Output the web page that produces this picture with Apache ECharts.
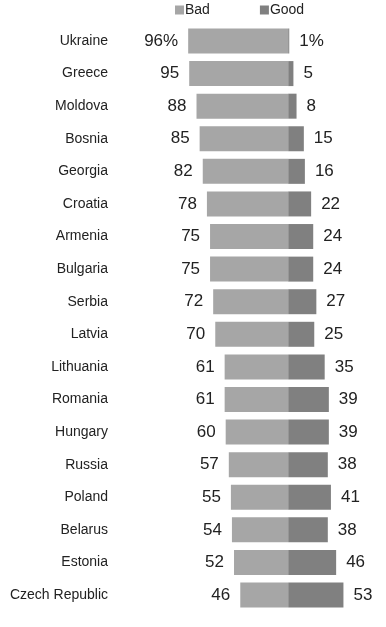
<!DOCTYPE html>
<html><head><meta charset="utf-8">
<script src="https://cdn.jsdelivr.net/npm/echarts@6/dist/echarts.min.js"></script>
<style>html,body{margin:0;padding:0;background:#fff}#c{width:386px;height:627px}</style>
</head><body><div id="c"></div>
<script>
const countries = ["Ukraine","Greece","Moldova","Bosnia","Georgia","Croatia","Armenia","Bulgaria","Serbia","Latvia","Lithuania","Romania","Hungary","Russia","Poland","Belarus","Estonia","Czech Republic"];
const bad = [96,95,88,85,82,78,75,75,72,70,61,61,60,57,55,54,52,46];
const good = [1,5,8,15,16,22,24,24,27,25,35,39,39,38,41,38,46,53];

const chart = echarts.init(document.getElementById('c'));
const fmt = p => Math.abs(p.value) + (p.dataIndex === 0 ? '%' : '');
chart.setOption({
  animation: false,
  textStyle: {fontFamily: 'Liberation Sans, Arial, sans-serif'},
  legend: {
    left: 170, top: -2, itemWidth: 9, itemHeight: 9, itemGap: 50, icon: 'rect',
    textStyle: {fontSize: 14, color: '#222', padding: [0,0,0,-4]},
    data: ['Bad','Good']
  },
  grid: {left: 184, right: 4, top: 24.7, bottom: 15.7, containLabel: false},
  xAxis: {type: 'value', min: -100, max: 90, show: false},
  yAxis: {
    type: 'category', data: countries, inverse: true,
    axisLine: {show: false}, axisTick: {show: false},
    axisLabel: {margin: 76, fontSize: 14, color: '#222'}
  },
  series: [
    {name: 'Bad', type: 'bar', stack: 's', barWidth: 25,
     itemStyle: {color: '#a6a6a6'},
     label: {show: true, position: 'left', distance: 10, fontSize: 17, color: '#222', formatter: fmt},
     data: bad.map(v => -v)},
    {name: 'Good', type: 'bar', stack: 's', barWidth: 25,
     itemStyle: {color: '#808080'},
     label: {show: true, position: 'right', distance: 10, fontSize: 17, color: '#222', formatter: fmt},
     data: good}
  ]
});
</script></body></html>
